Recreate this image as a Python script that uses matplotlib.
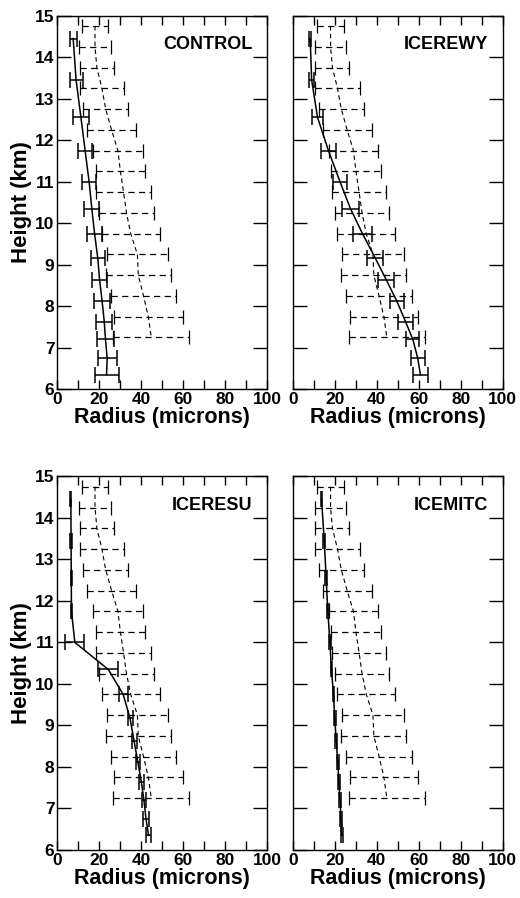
import numpy as np
import matplotlib
matplotlib.use("Agg")
import matplotlib.pyplot as plt

plt.rcParams['font.family'] = ['Liberation Sans', 'DejaVu Sans']
plt.rcParams['font.weight'] = 'bold'

# observed profile (dashed), same in every panel
obs_height = [14.75, 14.25, 13.75, 13.25, 12.75, 12.25, 11.75, 11.25,
              10.75, 10.25, 9.75, 9.25, 8.75, 8.25, 7.75, 7.25]
obs_radius = [18.0, 18.0, 18.9, 21.3, 23.1, 25.9, 28.9, 30.1,
              31.6, 33.0, 35.0, 38.2, 38.6, 41.1, 43.4, 44.8]
obs_err = [6.4, 7.5, 8.1, 10.5, 10.7, 11.6, 11.8, 11.8,
           12.9, 13.0, 13.9, 14.7, 15.4, 15.7, 16.3, 18.1]

# model levels (solid)
model_height = [14.45, 13.45, 12.55, 11.75, 11.0, 10.35, 9.75,
                9.17, 8.63, 8.12, 7.63, 7.2, 6.75, 6.35]

names = ["CONTROL", "ICEREWY", "ICERESU", "ICEMITC"]
model_radius = {
    "CONTROL": [7.6, 9.0, 11.3, 13.3, 15.2, 16.5, 17.8, 19.3, 20.2, 21.4, 22.4, 23.0, 23.8, 23.5],
    "ICEREWY": [8.3, 9.0, 11.8, 17.0, 22.5, 27.5, 33.2, 39.2, 44.6, 49.6, 53.7, 57.2, 59.5, 60.8],
    "ICERESU": [6.5, 6.6, 6.7, 6.8, 8.4, 24.3, 31.4, 34.7, 36.6, 38.4, 40.1, 41.3, 42.3, 43.5],
    "ICEMITC": [13.7, 15.0, 15.9, 16.7, 17.7, 18.4, 19.4, 20.0, 20.7, 21.4, 22.0, 22.5, 23.0, 23.3],
}
model_err = {
    "CONTROL": [1.7, 3.1, 3.8, 3.4, 3.4, 3.5, 3.7, 3.3, 3.4, 3.7, 3.8, 4.0, 4.5, 5.7],
    "ICEREWY": [0.6, 1.2, 2.6, 3.4, 3.5, 4.2, 4.3, 4.0, 3.8, 3.4, 3.4, 3.1, 3.3, 3.6],
    "ICERESU": [0.3, 0.3, 0.3, 0.3, 4.6, 4.8, 2.2, 1.2, 1.2, 1.1, 1.1, 1.1, 1.4, 1.4],
    "ICEMITC": [0.4, 0.4, 0.4, 0.4, 0.4, 0.4, 0.4, 0.4, 0.4, 0.4, 0.4, 0.4, 0.4, 0.4],
}

fig = plt.figure(figsize=(5.2, 8.98), dpi=100)
lefts = [0.110, 0.563]
bottoms = [0.5665, 0.0535]
W, H = 0.4038, 0.416

for i, name in enumerate(names):
    row, col = divmod(i, 2)
    ax = fig.add_axes([lefts[col], bottoms[row], W, H])

    # observations
    ln, caps, bars = ax.errorbar(obs_radius, obs_height, xerr=obs_err, color='k',
                                 capsize=5, elinewidth=0.9, capthick=0.9, lw=0.8)
    ln.set_linestyle((0, (4, 3)))
    bars[0].set_linestyle((0, (5, 3.5)))

    # model
    ax.errorbar(model_radius[name], model_height, xerr=model_err[name], color='k',
                capsize=6, elinewidth=1.1, capthick=1.1, lw=1.1)

    ax.set_xlim(0, 100)
    ax.set_ylim(6, 15)
    ax.set_xticks(np.arange(0, 101, 20))
    ax.set_xticks(np.arange(10, 100, 20), minor=True)
    ax.set_yticks(np.arange(6, 16, 1))
    ax.tick_params(axis='x', which='both', direction='in', top=True, length=6.5,
                   width=1, labelsize=12.5, pad=2)
    ax.tick_params(axis='y', direction='in', right=True, length=10, width=1,
                   labelsize=12.5, pad=2)
    for s in ax.spines.values():
        s.set_linewidth(1)
    ax.set_xlabel("Radius (microns)", fontsize=15.5, fontweight='bold', labelpad=0)
    if col == 0:
        ax.set_ylabel("Height (km)", fontsize=16, fontweight='bold', labelpad=2)
    else:
        ax.set_yticklabels([])
    ax.text(0.93, 0.945, name, transform=ax.transAxes, ha='right', va='top',
            fontsize=13, fontweight='bold')

fig.savefig("out.png", dpi=100)
